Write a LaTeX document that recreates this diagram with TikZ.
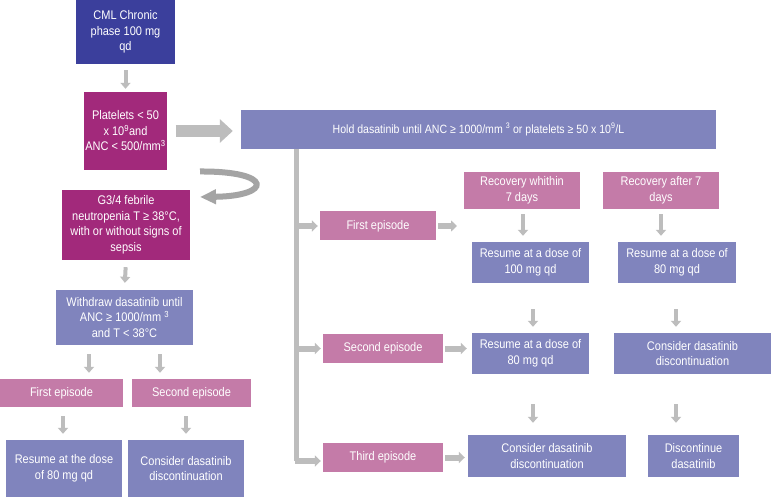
\documentclass[tikz,border=0pt]{standalone}
\usepackage{fontspec}
\setmainfont[FakeStretch=0.88]{Liberation Sans}
\usetikzlibrary{arrows.meta}
\definecolor{cmlblue}{HTML}{3B3F9C}
\definecolor{mag}{HTML}{A2297B}
\definecolor{pinkc}{HTML}{C47BA8}
\definecolor{lav}{HTML}{8084BD}
\definecolor{arrgray}{HTML}{BDBDBD}
\definecolor{curvgray}{HTML}{A4A4A4}
\tikzset{
  box/.style={draw=none, inner sep=1pt, align=center, text=white, font=\fontsize{12.5}{15.5}\selectfont},
  bluebox/.style={box, fill=cmlblue},
  magbox/.style={box, fill=mag},
  pinkbox/.style={box, fill=pinkc},
  lavbox/.style={box, fill=lav},
  darr/.style={draw=arrgray, line width=4pt, -{Triangle[width=10pt,length=6pt]}},
  harr/.style={draw=arrgray, line width=6pt, -{Triangle[width=11pt,length=6pt]}},
  bigarr/.style={draw=arrgray, line width=12pt, -{Triangle[width=23pt,length=13pt]}},
  barline/.style={draw=arrgray, line width=5pt},
  curvarr/.style={draw=curvgray, line width=6pt, -{Triangle[width=14pt,length=16pt]}}
}
\begin{document}
\begin{tikzpicture}[x=1pt,y=-1pt]
\useasboundingbox[fill=white] (0,0) rectangle (771,497);
% left column
\node[bluebox, minimum width=99pt, minimum height=64pt] (cml) at (125.5,32) {CML Chronic\\phase 100 mg\\qd};
\node[magbox, minimum width=79pt, minimum height=78pt] (plt) at (125.5,131) {Platelets < 50\\x 10\textsuperscript{9}and\\ANC < 500/mm\textsuperscript{3}};
\node[lavbox, minimum width=475pt, minimum height=39pt, font=\fontsize{12}{14}\selectfont] (hold) at (478.5,129.5) {Hold dasatinib until ANC ≥ 1000/mm \textsuperscript{3} or platelets ≥ 50 x 10\textsuperscript{9}/L};
\node[magbox, minimum width=128pt, minimum height=70pt] (g34) at (126,225) {G3/4 febrile\\neutropenia T ≥ 38°C,\\with or without signs of\\sepsis};
\node[lavbox, minimum width=137pt, minimum height=55pt] (wd) at (124.5,317.5) {Withdraw dasatinib until\\ANC ≥ 1000/mm \textsuperscript{3}\\and T < 38°C};
\node[pinkbox, minimum width=123pt, minimum height=28pt] (fe1) at (61.5,393) {First episode};
\node[pinkbox, minimum width=119pt, minimum height=28pt] (se1) at (191.5,393) {Second episode};
\node[lavbox, minimum width=116pt, minimum height=57pt] (r1) at (64,468.5) {Resume at the dose\\of 80 mg qd};
\node[lavbox, minimum width=116pt, minimum height=57pt] (c1) at (186,468.5) {Consider dasatinib\\discontinuation};
% right part
\node[pinkbox, minimum width=116pt, minimum height=29pt] (fe2) at (378,226) {First episode};
\node[pinkbox, minimum width=116pt, minimum height=37pt] (rw) at (522,190.5) {Recovery whithin\\7 days};
\node[pinkbox, minimum width=116pt, minimum height=37pt] (ra) at (661,190.5) {Recovery after 7\\days};
\node[lavbox, minimum width=117pt, minimum height=41pt] (res100) at (530.5,262.5) {Resume at a dose of\\100 mg qd};
\node[lavbox, minimum width=118pt, minimum height=41pt] (res80a) at (677,262.5) {Resume at a dose of\\80 mg qd};
\node[pinkbox, minimum width=120pt, minimum height=29pt] (se2) at (383,348.5) {Second episode};
\node[lavbox, minimum width=117pt, minimum height=41pt] (res80b) at (530.5,353.5) {Resume at a dose of\\80 mg qd};
\node[lavbox, minimum width=157pt, minimum height=41pt] (con2) at (692.5,353.5) {Consider dasatinib\\discontinuation};
\node[pinkbox, minimum width=120pt, minimum height=29pt] (te) at (383,457.5) {Third episode};
\node[lavbox, minimum width=158pt, minimum height=42pt] (con3) at (547,456) {Consider dasatinib\\discontinuation};
\node[lavbox, minimum width=91pt, minimum height=42pt] (disc) at (693.5,456) {Discontinue\\dasatinib};
% left arrows
\draw[darr, shorten <=6pt, shorten >=3pt] (cml.south) -- (plt.north);
\draw[bigarr, shorten <=9pt, shorten >=8pt] (plt.east) -- (plt.east -| hold.west);
\coordinate (cs) at (200,171.5);
\coordinate (ce) at (200,197);
\draw[curvarr] (cs) .. controls (274,171) and (272,196) .. (ce);
\draw[darr, shorten <=7pt, shorten >=7pt] (g34.south) -- (wd.north);
\draw[darr, shorten <=9pt, shorten >=6pt] ([xshift=-35.5pt]wd.south) -- ([xshift=-35.5pt]wd.south |- fe1.north);
\draw[darr, shorten <=9pt, shorten >=6pt] ([xshift=35.5pt]wd.south) -- ([xshift=35.5pt]wd.south |- se1.north);
\draw[darr, shorten <=9pt, shorten >=6pt] ([xshift=1.5pt]fe1.south) -- ([xshift=1.5pt]fe1.south |- r1.north);
\draw[darr, shorten <=9pt, shorten >=6pt] ([xshift=-5.5pt]se1.south) -- ([xshift=-5.5pt]se1.south |- c1.north);
% right arrows
\coordinate (bartop) at (hold.south -| 296.5,0);
\coordinate (barbot) at (296.5,461);
\draw[barline] (bartop) -- (barbot);
\draw[harr, shorten >=2pt] ([xshift=-2pt]barbot) -- (barbot -| te.west);
\draw[harr, shorten <=2pt, shorten >=2pt] (bartop |- fe2.west) -- (fe2.west);
\draw[harr, shorten <=2pt, shorten >=2pt] (bartop |- se2.west) -- (se2.west);
\coordinate (fe2e) at (457,226);
\draw[harr, shorten <=2pt] (fe2.east) -- (fe2e);
\draw[harr, shorten <=2pt, shorten >=5pt] (se2.east) -- (se2.east -| res80b.west);
\draw[harr, shorten <=2pt, shorten >=3pt] (te.east) -- (te.east -| con3.west);
\draw[darr, shorten <=5pt, shorten >=6pt] ([xshift=1pt]rw.south) -- ([xshift=1pt]rw.south |- res100.north);
\draw[darr, shorten <=5pt, shorten >=6pt] (ra.south) -- (ra.south |- res80a.north);
\draw[darr, shorten <=26pt, shorten >=6pt] ([xshift=2.5pt]res100.south) -- ([xshift=2.5pt]res100.south |- res80b.north);
\draw[darr, shorten <=26pt, shorten >=6pt] ([xshift=-1pt]res80a.south) -- ([xshift=-1pt]res80a.south |- con2.north);
\draw[darr, shorten <=30pt, shorten >=12pt] ([xshift=2.5pt]res80b.south) -- ([xshift=2.5pt]res80b.south |- con3.north);
\draw[darr, shorten <=30pt, shorten >=12pt] ([xshift=-16.5pt]con2.south) -- ([xshift=-16.5pt]con2.south |- disc.north);
\end{tikzpicture}
\end{document}
